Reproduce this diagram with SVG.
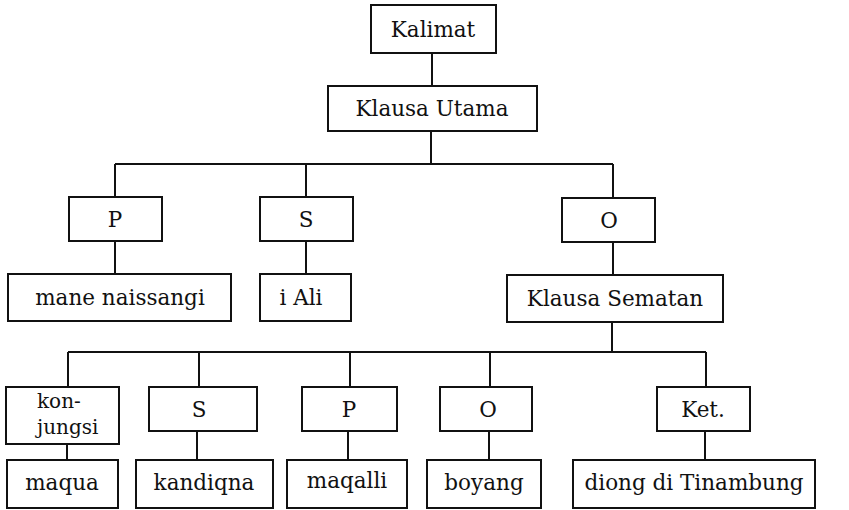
<svg xmlns="http://www.w3.org/2000/svg" width="849" height="510" viewBox="0 0 849 510">
<style>
rect{fill:#fff;stroke:#111;stroke-width:2}
.c path{fill:none;stroke:#111;stroke-width:2}
.t text{font-family:'DejaVu Serif','Liberation Serif',serif;font-size:21.5px;fill:#111;text-anchor:middle}
</style>
<rect x="0" y="0" width="849" height="510" style="stroke:none"/>
<g class="c" id="connectors">
<path d="M432 53V86"/>
<path d="M431 131V164M115 164H613M115 164V197M306 164V197M613 164V198"/>
<path d="M115 241V274M306 241V274M613 242V275"/>
<path d="M612 322V352M68 352H706M68 352V387M199 352V387M350 352V387M490 352V387M706 352V387"/>
<path d="M67 444V460M197 431V460M348 431V460M489 431V460M705 431V460"/>
</g>
<g class="t">
<g id="n-kalimat"><rect x="371" y="5" width="125" height="48"/><text x="433" y="37">Kalimat</text></g>
<g id="n-klausa-utama"><rect x="328" y="86" width="209" height="45"/><text x="432" y="116">Klausa Utama</text></g>
<g id="n-p1"><rect x="69" y="197" width="93" height="44"/><text x="115" y="227">P</text></g>
<g id="n-s1"><rect x="260" y="197" width="93" height="44"/><text x="306" y="227">S</text></g>
<g id="n-o1"><rect x="562" y="198" width="93" height="44"/><text x="609" y="228">O</text></g>
<g id="n-mane"><rect x="8" y="274" width="223" height="47"/><text x="120" y="305">mane naissangi</text></g>
<g id="n-iali"><rect x="260" y="274" width="91" height="47"/><text x="301" y="305">i Ali</text></g>
<g id="n-klausa-sematan"><rect x="507" y="275" width="216" height="47"/><text x="615" y="306">Klausa Sematan</text></g>
<g id="n-konjungsi"><rect x="6" y="387" width="113" height="57"/><text x="37" y="408" style="text-anchor:start;font-size:20px">kon-</text><text x="37" y="434" style="text-anchor:start;font-size:20px">jungsi</text></g>
<g id="n-s2"><rect x="149" y="387" width="108" height="44"/><text x="199" y="417">S</text></g>
<g id="n-p2"><rect x="302" y="387" width="95" height="44"/><text x="349" y="417">P</text></g>
<g id="n-o2"><rect x="440" y="387" width="92" height="44"/><text x="488" y="417">O</text></g>
<g id="n-ket"><rect x="657" y="387" width="93" height="44"/><text x="703" y="417">Ket.</text></g>
<g id="n-maqua"><rect x="7" y="460" width="111" height="48"/><text x="62" y="490">maqua</text></g>
<g id="n-kandiqna"><rect x="136" y="460" width="137" height="48"/><text x="204" y="490">kandiqna</text></g>
<g id="n-maqalli"><rect x="287" y="460" width="120" height="48"/><text x="347" y="488">maqalli</text></g>
<g id="n-boyang"><rect x="427" y="460" width="114" height="48"/><text x="484" y="490">boyang</text></g>
<g id="n-diong"><rect x="573" y="460" width="242" height="48"/><text x="694" y="490">diong di Tinambung</text></g>
</g>
</svg>
